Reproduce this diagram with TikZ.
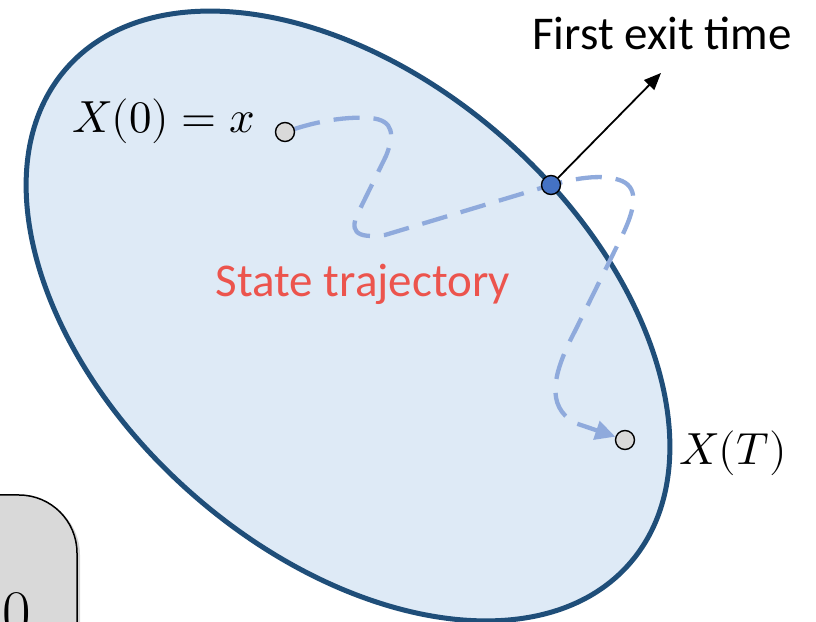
\documentclass[tikz,border=0pt]{standalone}
\usepackage{fontspec}
\usepackage{unicode-math}
\newfontfamily\calib{Carlito}
\usetikzlibrary{arrows.meta,shadows}
\definecolor{regionfill}{RGB}{222,234,246}
\definecolor{regionline}{RGB}{31,78,121}
\definecolor{trajblue}{RGB}{143,170,220}
\definecolor{exitblue}{RGB}{68,114,196}
\definecolor{dotgray}{RGB}{217,217,217}
\definecolor{labelred}{RGB}{236,84,77}
\pgfdeclarelayer{bg}
\pgfsetlayers{bg,main}
\begin{document}
\begin{tikzpicture}[x=1pt,y=1pt,
  dot/.style={circle,draw=black,line width=1.4pt,minimum size=19pt,inner sep=0pt},
  region/.style={fill=regionfill,draw=regionline,line width=5pt},
  traj/.style={draw=trajblue,line width=4.3pt,dash pattern=on 26pt off 14pt,
    -{Triangle[length=20pt,width=19pt]}},
  exitarrow/.style={draw=black,line width=1.8pt,-{Triangle[length=17pt,width=14pt]}},
  sanslabel/.style={inner sep=0pt,font=\calib\fontsize{47}{52}\selectfont},
  mathlabel/.style={inner sep=0pt,font=\fontsize{45}{50}\selectfont},
  cardbox/.style={fill=dotgray,draw=black,line width=1.5pt,rounded corners=58pt,
    drop shadow={shadow xshift=3pt,shadow yshift=-2pt,opacity=0.35}}]
\clip (0,0) rectangle (816,621);

% partial card at bottom left
\draw[cardbox] (-150,-150) rectangle (77,126);
\node[anchor=base west,inner sep=0pt,font=\fontsize{62}{68}\selectfont] (zero) at (2,-12) {0};

% points
\node[dot,fill=dotgray] (S) at (285,489) {};
\node[dot,fill=exitblue] (E) at (551,436) {};
\node[dot,fill=dotgray] (T) at (625,181) {};
\coordinate (F) at (661,548);

% labels
\node[mathlabel,anchor=base west] (x0) at (72,488) {$X(0)=x$};
\node[mathlabel,anchor=base west] (xT) at (679,156) {$X(T)$};
\node[sanslabel,anchor=base] (fet) at (662,571) {First exit time};
\node[sanslabel,anchor=base,text=labelred] (st) at (363,324) {State trajectory};

\begin{pgfonlayer}{bg}
\draw[region,rotate around={-41.4:(348,305)}] (348,305) ellipse [x radius=375, y radius=236.5];
\draw[traj] (S) .. controls (310,497) and (340,505) .. (370,503)
  .. controls (395,501) and (394,485) .. (386,465) -- (360,412)
  .. controls (348,390) and (355,382) .. (385,386) -- (E.center)
  .. controls (580,444) and (605,447) .. (622,440)
  .. controls (640,432) and (634,410) .. (622,385) -- (575,290)
  .. controls (553,248) and (545,215) .. (575,198) -- (T);
\end{pgfonlayer}

\draw[exitarrow] (E) -- (F);
\end{tikzpicture}
\end{document}
